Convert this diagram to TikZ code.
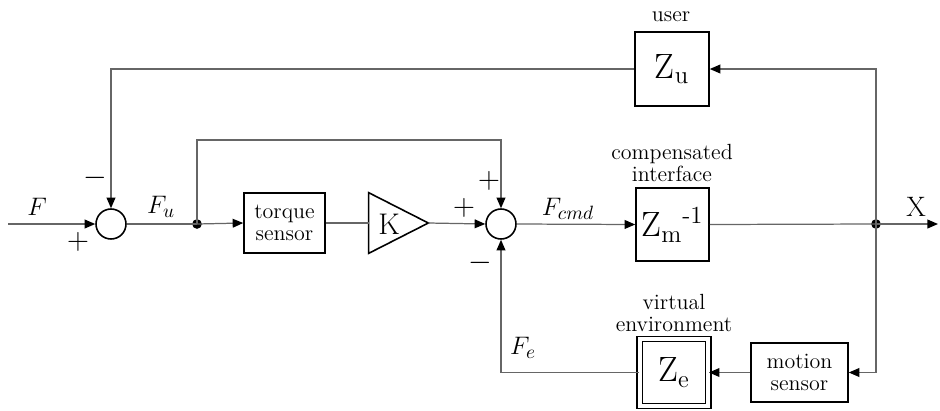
\documentclass[tikz,border=0pt]{standalone}
\usetikzlibrary{arrows.meta}
\begin{document}
\begin{tikzpicture}[x=0.02cm,y=-0.02cm,
  lin/.style={draw=black!60,line width=0.7pt},
  arr/.style={lin,-{Triangle[length=6pt,width=5pt,color=black]}},
  blk/.style={draw=black,line width=0.9pt,fill=white,inner sep=0pt,align=center,font=\fontsize{12.5}{13.5}\selectfont},
  sumc/.style={circle,draw=black,line width=0.9pt,minimum size=0.6cm,inner sep=0pt},
  dot/.style={circle,fill=black,minimum size=5.5pt,inner sep=0pt},
  lbl/.style={font=\fontsize{12.5}{13.5}\selectfont,inner sep=0pt,align=center},
  sig/.style={font=\fontsize{15}{17}\selectfont,inner sep=0pt},
  pm/.style={font=\fontsize{17}{19}\selectfont,inner sep=0pt},
  big/.style={font=\fontsize{20}{23}\selectfont}]
\useasboundingbox (0,0) rectangle (940,410);

% nodes
\coordinate (in) at (8,224);
\node[sumc] (s1) at (111,224) {};
\node[dot] (j1) at (197,224) {};
\node[blk,minimum width=1.62cm,minimum height=1.2cm] (ts) at (284.5,223) {torque\\[-1pt]sensor};
\node[minimum width=1.18cm,minimum height=1.2cm,inner sep=0pt] (K) at (398.5,223) {};
\draw[black,line width=0.9pt] (K.north west) -- (K.east) -- (K.south west) -- cycle;
\node[inner sep=0pt,font=\fontsize{17}{19}\selectfont] (Kt) at (389,224) {K};
\node[sumc] (s2) at (501,224) {};
\coordinate (c1) at (501,140);
\node[blk,big,minimum width=1.46cm,minimum height=1.46cm] (zm) at (672.5,224.5) {Z\textsubscript{m}\textsuperscript{-1}};
\node[dot] (j2) at (876,224) {};
\coordinate (out) at (938,224);
\node[blk,big,minimum width=1.48cm,minimum height=1.48cm] (zu) at (672,69) {Z\textsubscript{u}};
\node[blk,minimum width=1.94cm,minimum height=1.18cm] (ms) at (799.5,372.5) {motion\\[-1pt]sensor};
\node[blk,big,draw=black,double=white,double distance=2.2pt,line width=0.8pt,minimum width=1.37cm,minimum height=1.34cm] (ze) at (674,372.5) {Z\textsubscript{e}};

% connectors
\draw[arr] (in) -- (s1.west);
\draw[lin] (s1.east) -- (j1.center);
\draw[arr] (j1.center) -- (ts.west);
\draw[lin] (ts.east) -- (K.west);
\draw[arr] (K.east) -- (s2.west);
\draw[arr] (s2.east) -- (zm.west);
\draw[lin] (zm.east) -- (j2.center);
\draw[arr] (j2.center) -- (out);
\draw[arr] (j2.center) |- (zu.east);
\draw[arr] (j2.center) |- (ms.east);
\draw[arr] (ms.west) -- (ze.east);
\draw[arr] (ze.west) -| (s2.south);
\draw[arr] (zu.west) -| (s1.north);
\draw[arr] (j1.center) |- (c1) -- (s2.north);

% labels
\node[sig] (lF) at (37,207) {$F$};
\node[sig] (lFu) at (161,207) {$F_u$};
\node[sig] (lFc) at (568,209) {$F_{cmd}$};
\node[sig] (lFe) at (523,348) {$F_e$};
\node[pm] (p1) at (78,242) {$+$};
\node[pm] (m1) at (95,178) {$-$};
\node[pm] (p2) at (464,208) {$+$};
\node[pm] (p3) at (489,181) {$+$};
\node[pm] (m2) at (480,263) {$-$};
\node[font=\fontsize{16}{18}\selectfont,inner sep=0pt] (lX) at (916,207) {X};
\node[lbl] (luser) at (671,17) {user};
\node[lbl] (lcomp) at (672,163) {compensated\\[-1pt]interface};
\node[lbl] (lvirt) at (674,313) {virtual\\[-1pt]environment};
\end{tikzpicture}
\end{document}
